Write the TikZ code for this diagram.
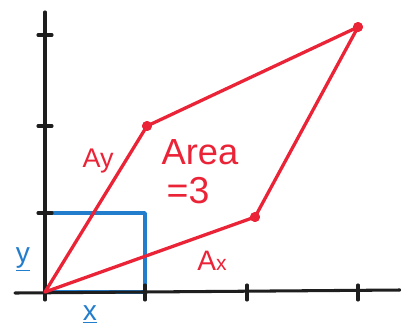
\documentclass[tikz,border=0pt]{standalone}
\usepackage{fontspec}
\setmainfont{Liberation Sans}
\definecolor{penred}{RGB}{235,35,55}
\definecolor{penblue}{RGB}{35,125,205}
\definecolor{penblack}{RGB}{30,30,30}
\begin{document}
\begin{tikzpicture}[x=0.03cm,y=-0.03cm,
  axis/.style={draw=penblack,line width=2.6pt,line cap=round},
  tick/.style={draw=penblack,line width=2.6pt,line cap=round},
  vec/.style={draw=penred,line width=2.8pt,line cap=round,line join=round},
  rect/.style={draw=penblue,line width=3.2pt,line join=round},
  dot/.style={circle,fill=penred,inner sep=0pt,minimum size=8.5pt},
  redlbl/.style={text=penred,inner sep=0pt},
  bluelbl/.style={text=penblue,inner sep=0pt}]
\useasboundingbox (0,0) rectangle (401,329);
% axes
\coordinate (O) at (45,292);
\coordinate (ytop) at (45,12);
\coordinate (ybot) at (45,300);
\coordinate (xleft) at (15,293);
\coordinate (xright) at (400,290);
% blue unit rectangle
\coordinate (R1) at (145,292);
\coordinate (R2) at (145,213);
\coordinate (R3) at (45,213);
\draw[rect] (O) -- (R1) -- (R2) -- (R3) -- cycle;
\draw[axis] (ybot) -- (ytop);
\draw[axis] (xleft) -- (xright);
% ticks
\foreach \yy in {35,126,213} \draw[tick] (38,\yy) -- (52,\yy);
\foreach \xx in {145,247,358} \draw[tick] (\xx,285) -- (\xx,300);
% red parallelogram
\node[dot] (Ay) at (147,126) {};
\node[dot] (S) at (358,27) {};
\node[dot] (Ax) at (255,217) {};
\draw[vec] (O) -- (Ay.center) -- (S.center) -- (Ax.center) -- (O);
\node[dot] at (Ay) {};
\node[dot] at (S) {};
\node[dot] at (Ax) {};
% labels
\node[redlbl,font=\fontsize{23}{25}\selectfont] (lAy) at (98,161) {Ay};
\node[redlbl,font=\fontsize{31}{34}\selectfont] (lArea) at (200,152) {Area};
\node[redlbl,font=\fontsize{32}{34}\selectfont] (lEq) at (188,191) {=3};
\node[redlbl,font=\fontsize{24}{26}\selectfont] (lAx) at (212,261) {A{\fontsize{18}{20}\selectfont x}};
\node[bluelbl,font=\fontsize{24}{26}\selectfont] (ly) at (23,259) {\underline{y}};
\node[bluelbl,font=\fontsize{24}{26}\selectfont] (lx) at (90,314) {\underline{x}};
\end{tikzpicture}
\end{document}
